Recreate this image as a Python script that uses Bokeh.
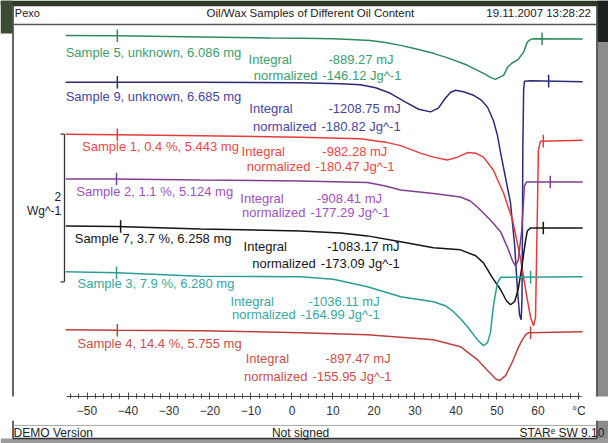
import numpy as np
from bokeh.plotting import figure
from bokeh.layouts import column
from bokeh.models import Range1d, SingleIntervalTicker, Label
from bokeh.core.properties import value
from bokeh.embed import file_html
from bokeh.resources import INLINE

FONT = "Liberation Sans"

# ---------------- texts ----------------
header_left = "Pexo"
chart_title = "Oil/Wax Samples of Different Oil Content"
header_date = "19.11.2007 13:28:22"
footer_left = "DEMO Version"
footer_mid = "Not signed"
footer_right = "STARᵉ SW 9.10"
unit_label = "°C"
scale_value = "2"
scale_unit = "Wg^-1"

# ---------------- data ----------------
sample_names = [
    "Sample 5, unknown, 6.086 mg",
    "Sample 9, unknown, 6.685 mg",
    "Sample 1, 0.4 %, 5.443 mg",
    "Sample 2, 1.1 %, 5.124 mg",
    "Sample 7, 3.7 %, 6.258 mg",
    "Sample 3, 7.9 %, 6.280 mg",
    "Sample 4, 14.4 %, 5.755 mg",
]
integral_mj = [-889.27, -1208.75, -982.28, -908.41, -1083.17, -1036.11, -897.47]
normalized_jg = [-146.12, -180.82, -180.47, -177.29, -173.09, -164.99, -155.95]
# vertical shift of each curve (W/g)
baseline_offsets = [-0.108, -0.743, -1.446, -2.054, -2.689, -3.311, -4.095]
scale_bar_wg = 2.0
# integration limits (°C)
left_limit = [-42.6, -42.6, -42.6, -42.8, -41.8, -42.8, -42.6]
right_limit = [61.0, 62.6, 61.3, 63.0, 61.3, 58.2, 58.2]

# heat flow curves: temperature (°C) and heat flow (W/g)
temp_s5 = [-55.2, -42.8, -22.3, -5.2, 2.1, 10.1, 14.3, 19.1, 22.8, 26.5, 30.1, 34.5, 38.7, 42.8, 45.0,
           47.2, 48.4, 49.6, 51.6, 52.6, 53.7, 55.2, 56.5, 57.4, 58.2, 58.9, 70.9]
flow_s5 = [0.0, -0.004, -0.020, -0.034, -0.038, -0.045, -0.054, -0.068, -0.095, -0.135, -0.182, -0.243,
           -0.318, -0.405, -0.466, -0.527, -0.568, -0.595, -0.541, -0.428, -0.374, -0.324, -0.226, -0.091,
           -0.054, -0.045, -0.047]

temp_s9 = [-55.2, -42.8, -22.3, 2.1, 11.8, 16.7, 20.4, 24.0, 27.7, 30.9, 33.8, 35.7, 37.4, 38.7, 39.9,
           41.8, 44.3, 46.2, 47.7, 49.1, 50.1, 50.9, 52.1, 53.3, 54.3, 55.0, 55.5, 55.9, 56.1, 56.2,
           56.3, 56.5, 56.7, 58.2, 70.9]
flow_s9 = [0.0, 0.0, 0.0, -0.007, -0.020, -0.034, -0.074, -0.149, -0.270, -0.365, -0.401, -0.351,
           -0.216, -0.135, -0.108, -0.128, -0.176, -0.243, -0.338, -0.514, -0.716, -0.959, -1.297,
           -1.635, -2.203, -2.811, -3.149, -3.216, -2.946, -2.135, -0.919, -0.108, 0.014, 0.020, 0.007]

temp_s1 = [-55.2, -42.8, -22.3, 2.1, 16.7, 22.8, 26.5, 31.3, 34.5, 37.9, 40.4, 42.8, 44.8, 46.7, 49.1,
           51.6, 53.8, 55.7, 57.2, 58.2, 58.9, 59.4, 59.6, 59.9, 60.1, 60.6, 70.9]
flow_s1 = [0.0, -0.007, -0.020, -0.041, -0.061, -0.108, -0.155, -0.257, -0.311, -0.351, -0.311, -0.250,
           -0.257, -0.311, -0.486, -0.797, -1.162, -1.676, -2.176, -2.486, -2.595, -2.486, -1.838,
           -0.892, -0.216, -0.095, -0.081]

temp_s2 = [-55.2, -42.8, -22.3, 2.1, 18.4, 22.8, 26.5, 34.5, 41.1, 43.5, 45.2, 48.4, 50.9, 52.6, 53.8,
           54.5, 55.2, 56.0, 56.5, 56.7, 57.2, 70.9]
flow_s2 = [0.0, 0.0, -0.014, -0.027, -0.047, -0.095, -0.149, -0.196, -0.243, -0.297, -0.378, -0.554,
           -0.716, -0.932, -1.108, -1.176, -1.095, -0.716, -0.284, -0.095, -0.041, -0.041]

temp_s7 = [-55.2, -42.8, -22.3, 2.1, 11.8, 18.4, 26.5, 34.5, 41.1, 44.8, 46.7, 48.9, 50.9, 52.3, 53.3,
           54.3, 55.2, 56.0, 56.5, 57.0, 57.4, 58.2, 70.9]
flow_s7 = [0.0, -0.007, -0.041, -0.068, -0.095, -0.135, -0.216, -0.297, -0.324, -0.405, -0.500, -0.703,
           -0.865, -1.014, -1.068, -1.027, -0.851, -0.581, -0.378, -0.189, -0.068, -0.027, -0.027]

temp_s3 = [-55.2, -42.8, -22.3, 2.1, 10.1, 18.4, 26.5, 34.5, 37.4, 39.4, 41.1, 42.8, 45.2, 46.7, 47.7,
           48.4, 49.1, 50.1, 50.9, 70.9]
flow_s3 = [0.0, -0.014, -0.061, -0.068, -0.101, -0.203, -0.338, -0.405, -0.459, -0.541, -0.635, -0.743,
           -0.919, -1.000, -0.959, -0.824, -0.473, -0.149, -0.074, -0.068]

temp_s4 = [-55.2, -42.8, -22.3, 2.1, 18.4, 34.5, 41.1, 45.2, 47.7, 49.6, 50.6, 52.1, 53.8, 55.2, 56.2,
           57.0, 57.7, 70.9]
flow_s4 = [0.0, -0.007, -0.014, -0.041, -0.068, -0.135, -0.230, -0.405, -0.554, -0.662, -0.689, -0.622,
           -0.432, -0.243, -0.135, -0.068, -0.041, -0.027]

temps = [temp_s5, temp_s9, temp_s1, temp_s2, temp_s7, temp_s3, temp_s4]
flows = [flow_s5, flow_s9, flow_s1, flow_s2, flow_s7, flow_s3, flow_s4]

# x-axis
tick_interval = 10
axis_start, axis_end = -55, 70.7

# ---------------- styles / layout ----------------
curve_colors = ["#2f8a5c", "#2b2b78", "#e63b3b", "#7f3f8f", "#151515", "#2a9d96", "#b8433f"]
text_colors = ["#3e9e6e", "#4646a0", "#e84848", "#a052bd", "#151515", "#35a8a2", "#cc4f4a"]

label_x = [-55.2, -55.2, -51.2, -52.6, -53.0, -52.3, -52.3]
label_y = [-0.345, -0.942, -1.618, -2.226, -2.855, -3.473, -4.284]
int_word_x = [-10.6, -10.4, -12.3, -12.6, -11.8, -15.0, -11.3]
int_val_x = [8.9, 8.9, 7.4, 6.1, 8.6, 4.0, 8.2]
int_y = [-0.439, -1.095, -1.685, -2.318, -2.969, -3.712, -4.491]
norm_val_x = [7.4, 7.2, 5.7, 4.5, 7.0, 2.1, 5.0]
norm_y = [-0.649, -1.345, -1.888, -2.504, -3.193, -3.892, -4.723]
norm_gap = 1.2

X0, X1 = -71.10, 77.20

p = figure(width=608, height=420, output_backend="svg", toolbar_location=None,
           x_range=Range1d(X0, X1), y_range=Range1d(-5.0, 0.3649),
           y_axis_location=None, title=None,
           min_border_left=0, min_border_right=0, min_border_top=0, min_border_bottom=23,
           background_fill_color="white", border_fill_color="white", outline_line_color=None)
p.xgrid.visible = False
p.ygrid.visible = False

ax = p.xaxis[0]
ax.ticker = SingleIntervalTicker(interval=tick_interval, num_minor_ticks=5)
ax.bounds = (axis_start, axis_end)
ax.major_label_overrides = {70: unit_label}
ax.axis_line_color = "#444444"
ax.major_tick_line_color = "#444444"
ax.minor_tick_line_color = "#444444"
ax.major_tick_in = 4
ax.major_tick_out = 3
ax.minor_tick_in = 3
ax.minor_tick_out = 2
ax.major_label_standoff = 4
ax.major_label_text_font = FONT
ax.major_label_text_font_size = "12px"
ax.major_label_text_color = "#333333"

# photo surroundings (screen bezel / background)
p.quad(left=[X0, X0, 74.51, 74.51], right=[X1, -68.17, X1, X1],
       top=[0.3649, 0.3649, 0.3649, -0.203], bottom=[0.297, -0.081, -0.203, -5.2],
       fill_color=["#2e3a28", "#3b4b33", "#1e2220", "#8c8c8c"], line_color=None)
# window frame and header rule
p.segment(x0=[-68.05, 74.39, -68.05], y0=[0.297, 0.297, 0.297], x1=[-68.05, 74.39, 74.39],
          y1=[-5.2, -5.2, 0.297], line_color="#333333", line_width=1.5)
p.segment(x0=[-67.9], y0=[0.0405], x1=[74.3], y1=[0.0405], line_color="#555555", line_width=1.5)

p.add_layout(Label(x=-67.6, y=0.189, text=header_left, text_font=FONT, text_font_size="11px",
                   text_baseline="middle", text_color="#222222"))
p.add_layout(Label(x=4.5, y=0.189, text=chart_title, text_font=FONT, text_font_size="11.5px",
                   text_baseline="middle", text_align="center", text_color="#222222"))
p.add_layout(Label(x=47.4, y=0.189, text=header_date, text_font=FONT, text_font_size="11.5px",
                   text_baseline="middle", text_color="#222222"))

# scale bar (2 W/g)
bar_top = baseline_offsets[2]
bar_bot = bar_top - scale_bar_wg
bar_x = -55.49
p.segment(x0=[bar_x, -56.46, -56.46], y0=[bar_top, bar_top, bar_bot],
          x1=[bar_x, bar_x, bar_x], y1=[bar_bot, bar_top, bar_bot], line_color="#333333", line_width=1.3)
p.add_layout(Label(x=-56.3, y=-2.284, text=scale_value, text_font=FONT, text_font_size="12px",
                   text_baseline="middle", text_align="right", text_color="#222222"))
p.add_layout(Label(x=-56.3, y=-2.486, text=scale_unit, text_font=FONT, text_font_size="12px",
                   text_baseline="middle", text_align="right", text_color="#222222"))

for i in range(len(sample_names)):
    off = baseline_offsets[i]
    t = np.array(temps[i])
    f = np.array(flows[i])
    p.line(t, f + off, line_color=curve_colors[i], line_width=1.5)
    # integration limit markers
    mx = [left_limit[i], right_limit[i]]
    my = [float(np.interp(v, t, f)) + off for v in mx]
    p.segment(x0=mx, y0=[y - 0.085 for y in my], x1=mx, y1=[y + 0.085 for y in my],
              line_color=curve_colors[i], line_width=1.5)
    p.text(x=[label_x[i]], y=[label_y[i]], text=[sample_names[i]], text_color=text_colors[i],
           text_font=value(FONT), text_font_size="13px", text_baseline="middle")
    p.text(x=[int_word_x[i], int_val_x[i], norm_val_x[i]],
           y=[int_y[i], int_y[i], norm_y[i]],
           text=["Integral", f"{integral_mj[i]:.2f} mJ", f"{normalized_jg[i]:.2f} Jg^-1"],
           text_color=text_colors[i], text_font=value(FONT), text_font_size="13px", text_baseline="middle")
    p.text(x=[norm_val_x[i] - norm_gap], y=[norm_y[i]], text=["normalized"], text_align="right",
           text_color=text_colors[i], text_font=value(FONT), text_font_size="13px", text_baseline="middle")

# ---------------- footer strip (status bar of the software window) ----------------
foot = figure(width=608, height=23, output_backend="svg", toolbar_location=None,
              x_range=Range1d(X0, X1), y_range=Range1d(-5.622, -5.311),
              x_axis_location=None, y_axis_location=None, title=None,
              min_border_left=0, min_border_right=0, min_border_top=0, min_border_bottom=0,
              background_fill_color="white", border_fill_color="white", outline_line_color=None)
foot.xgrid.visible = False
foot.ygrid.visible = False
foot.quad(left=[74.51, X0], right=[X1, X1], top=[-5.311, -5.554], bottom=[-5.622, -5.622],
          fill_color=["#8c8c8c", "#9a9a9a"], line_color=None)
foot.segment(x0=[-68.05, 74.39, -68.05], y0=[-5.311, -5.311, -5.554], x1=[-68.05, 74.39, 74.39],
             y1=[-5.554, -5.554, -5.554], line_color="#333333", line_width=1.5)
foot.segment(x0=[-67.9], y0=[-5.378], x1=[74.3], y1=[-5.378], line_color="#aaaaaa", line_width=1)
foot.text(x=[-67.9], y=[-5.48], text=[footer_left], text_font=value(FONT), text_font_size="12px",
          text_baseline="middle", text_color="#222222")
foot.text(x=[2.1], y=[-5.48], text=[footer_mid], text_font=value(FONT), text_font_size="12px",
          text_baseline="middle", text_align="center", text_color="#222222")
foot.text(x=[55.5], y=[-5.48], text=[footer_right], text_font=value(FONT), text_font_size="12px",
          text_baseline="middle", text_color="#222222")

layout = column(p, foot, spacing=0)
open("out.html", "w").write(file_html(layout, INLINE))
